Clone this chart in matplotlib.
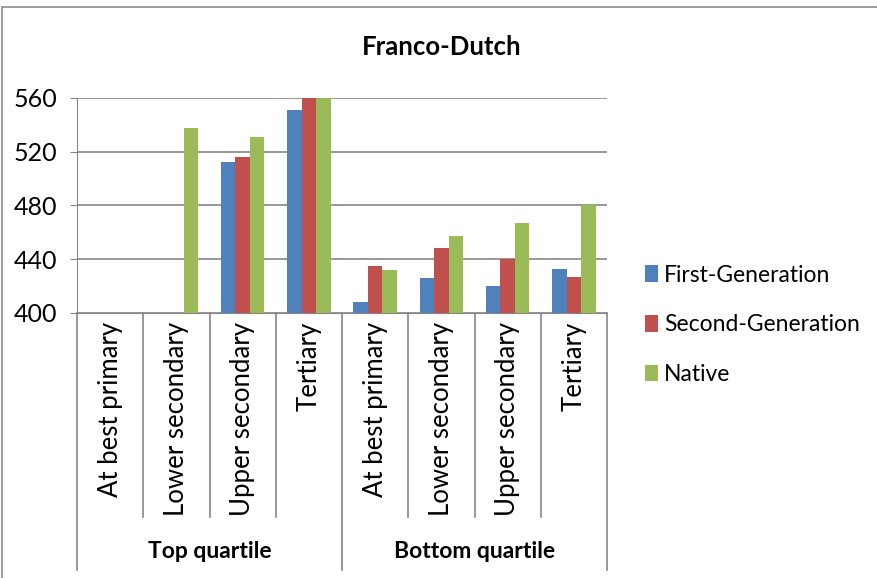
import matplotlib
matplotlib.use("Agg")
from matplotlib import pyplot as plt
from matplotlib.patches import Rectangle
import numpy as np

plt.rcParams['font.family'] = ['Lato', 'DejaVu Sans']

levels = ["At best primary", "Lower secondary", "Upper secondary", "Tertiary"]
quartiles = ["Top quartile", "Bottom quartile"]
series = ["First-Generation", "Second-Generation", "Native"]
colors = ["#4F81BD", "#C0504D", "#9BBB59"]

# scores per category (top quartile first, then bottom quartile); nan = no data
first_gen = [np.nan, np.nan, 512, 551, 408, 426, 420, 433]
second_gen = [np.nan, np.nan, 516, 566, 435, 448, 440, 427]
native = [np.nan, 538, 531, 572, 432, 457, 467, 480]

fig = plt.figure(figsize=(8.77, 5.78), dpi=100)
W, H = 877, 578

# outer chart frame
fig.patches.append(Rectangle((2 / W, -0.1), 1.2, 1.1 - 7 / H, transform=fig.transFigure,
                             fill=False, edgecolor="#8c8c8c", linewidth=1.2))

left, right, top, bottom = 77, 607, 98, 313
ax = fig.add_axes([left / W, 1 - bottom / H, (right - left) / W, (bottom - top) / H])

x = np.arange(len(levels) * len(quartiles))
width = 0.22
for i, (vals, name, c) in enumerate(zip([first_gen, second_gen, native], series, colors)):
    ax.bar(x + (i - 1) * width, vals, width, color=c, label=name, zorder=3)

ax.set_xlim(-0.5, len(x) - 0.5)
ax.set_ylim(400, 560)
ax.set_yticks([400, 440, 480, 520, 560])
ax.yaxis.grid(True, color="#868686", linewidth=1.2, zorder=0)
ax.tick_params(axis="y", length=5, color="#868686", labelsize=18, pad=9)
ax.set_xticks([])
for s in ["top", "right"]:
    ax.spines[s].set_visible(False)
ax.spines["left"].set_color("#868686")
ax.spines["bottom"].set_color("#868686")

fig.text(442 / W, 1 - 47 / H, "Franco-Dutch", fontsize=18.5, fontweight="bold",
         ha="center", va="center")

# multi-level category axis below the plot
trans = ax.get_xaxis_transform()
for b in np.arange(-0.5, len(x), 1.0):
    outer = b in (-0.5, 3.5, 7.5)
    y_end = -1.195 if outer else -0.949
    ax.plot([b, b], [0, y_end], color="#868686", linewidth=1.2, transform=trans, clip_on=False)
for xi in x:
    ax.text(xi, -0.04, levels[xi % 4], rotation=90, ha="center", va="top",
            fontsize=18.5, transform=trans)
for qi, q in enumerate(quartiles):
    ax.text(qi * 4 + 1.5, -1.107, q, ha="center", va="center", fontsize=16.5,
            fontweight="bold", transform=trans)

ax.legend(loc="center left", bbox_to_anchor=(0.722, 0.438), bbox_transform=fig.transFigure,
          frameon=False, fontsize=16.5, handlelength=0.6, handleheight=0.75,
          handletextpad=0.25, labelspacing=1.25, borderpad=0)

fig.savefig("out.png", dpi=100)
